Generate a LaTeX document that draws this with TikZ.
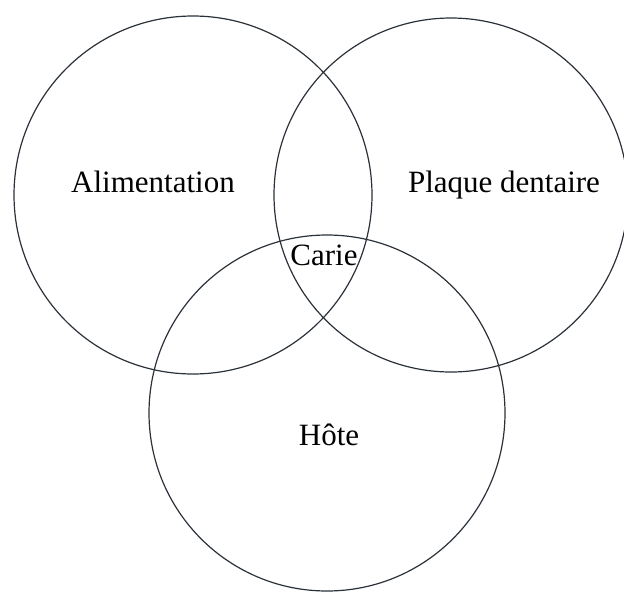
\documentclass[tikz,border=0pt]{standalone}
\usepackage{fontspec}
\setmainfont{Liberation Serif}
\usepackage{xcolor}
\usepackage{tikz}
\usetikzlibrary{positioning}
\definecolor{ink}{HTML}{2A3138}
\tikzset{
    every picture/.style={line cap=round,line join=round},
    vennset/.style={draw=ink,circle,line width=1.2pt,inner sep=0pt,outer sep=0pt},
    setlabel/.style={anchor=base,inner sep=0pt,text=black,
      font=\fontsize{31}{36}\selectfont}
}
\begin{document}
\begin{tikzpicture}[x=1pt,y=-1pt]
  \useasboundingbox (0,0) rectangle (624,592);
  \clip (0,0) rectangle (624,592);
  % the three sets
  \node[vennset,minimum size=358pt] (food) at (193,195) {};
  \node[vennset,minimum size=354pt] (plaque) at (451,195) {};
  \node[vennset,minimum size=356pt] (host) at (327,413) {};
  % labels
  \node[setlabel] (lfood) at (153,192) {Alimentation};
  \node[setlabel] (lplaque) at (504,192) {Plaque dentaire};
  \node[setlabel] (lcaries) at (324,265) {Carie};
  \node[setlabel] (lhost) at (329,445) {Hôte};
\end{tikzpicture}
\end{document}
